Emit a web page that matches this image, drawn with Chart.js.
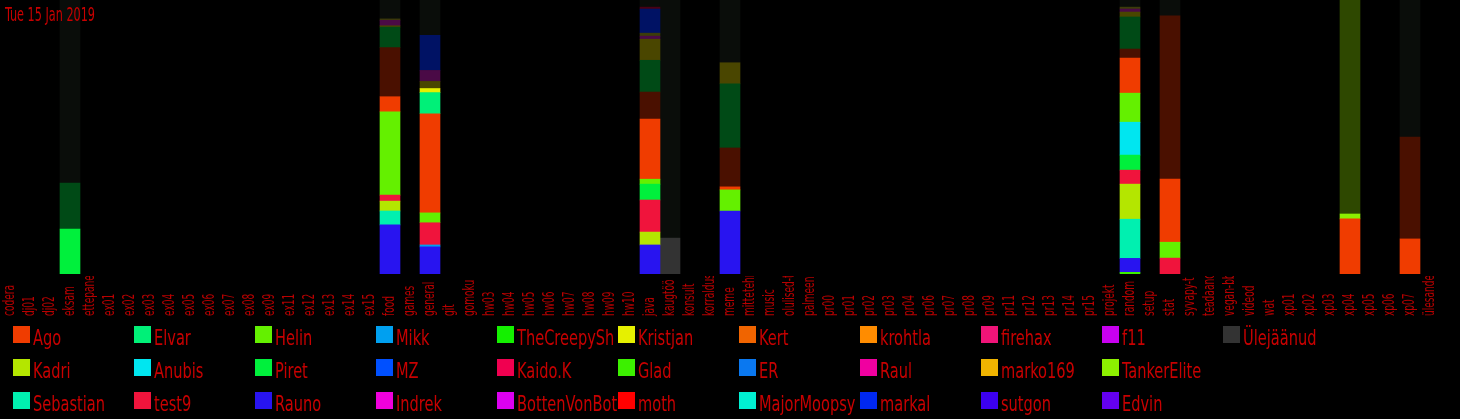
<!DOCTYPE html>
<html>
<head>
<meta charset="utf-8">
<script src="https://cdn.jsdelivr.net/npm/chart.js@4.4.1/dist/chart.umd.min.js"></script>
<style>
html,body{margin:0;padding:0;background:#000;overflow:hidden}
canvas{display:block}
</style>
</head>
<body>
<canvas id="c" width="1460" height="419"></canvas>
<script>
// ---------- data ----------
const titleText = 'Tue 15 Jan 2019';

const categories = ['codera','dj01','dj02','eksam','ettepanek','ex01','ex02','ex03','ex04','ex05','ex06','ex07','ex08','ex09','ex11','ex12','ex13','ex14','ex15','food','games','general','git','gomoku','hw03','hw04','hw05','hw06','hw07','hw08','hw09','hw10','java','kaugtöö','konsult','korraldus','meme','mittetehniline','music','olulised-teated','palmeeni-','pr00','pr01','pr02','pr03','pr04','pr06','pr07','pr08','pr09','pr11','pr12','pr13','pr14','pr15','projekt','random','setup','stat','syvapy-t','teadaanded','vegan-bb','videod','wat','xp01','xp02','xp03','xp04','xp05','xp06','xp07','ülesanded'];

// channels that have messages (all other channels are empty)
const barCategories = ['eksam','food','general','java','kaugtöö','meme','random','stat','xp04','xp07'];

// share of messages (%), newest period, per user, aligned with barCategories
const Glad        = [0,    0,    0,    0,    0,    0,    0.6,  0,    0,    0];
const Rauno       = [0,    17.9, 9.9,  10.6, 0,    23.0, 5.1,  0,    0,    0];
const Mikk        = [0,    0,    0.7,  0,    0,    0,    0,    0,    0,    0];
const Sebastian   = [0,    5.1,  0,    0,    0,    0,    14.3, 0,    0,    0];
const Kadri       = [0,    3.6,  0,    4.7,  0,    0,    12.8, 0,    0,    0];
const test9       = [0,    2.2,  8.1,  11.7, 0,    0,    5.1,  5.8,  0,    0];
const Piret       = [16.4, 0,    0,    5.8,  0,    0,    5.5,  0,    0,    0];
const Anubis      = [0,    0,    0,    0,    0,    0,    12.0, 0,    0,    0];
const Helin       = [0,    30.4, 3.6,  1.8,  0,    7.7,  10.6, 5.8,  0,    0];
const Ago         = [0,    5.5,  36.2, 21.9, 0,    1.1,  12.8, 23.0, 20.1, 12.8];
const Elvar       = [0,    0,    7.7,  0,    0,    0,    0,    0,    0,    0];
const Kristjan    = [0,    0,    1.5,  0,    0,    0,    0,    0,    0,    0];
const TankerElite = [0,    0,    0,    0,    0,    0,    0,    0,    1.8,  0];
const Ulejaanud   = [0,    0,    0,    0,    13.1, 0,    0,    0,    0,    0];

// share of messages (%), older period (dimmed), aligned with barCategories
const AgoOld         = [0,    17.9, 0,    9.9,  0,    14.2, 3.3,  59.6, 0,    37.2];
const PiretOld       = [16.8, 7.5,  0,    11.6, 0,    23.4, 11.7, 0,    0,    0];
const KristjanOld    = [0,    0.5,  2.6,  7.7,  0,    7.7,  1.8,  0,    0,    0];
const IndrekOld      = [0,    2.0,  4.0,  1.1,  0,    0,    1.1,  0,    0,    0];
const KadriOld       = [0,    0.5,  0,    1.1,  0,    0,    0.7,  0,    0,    0];
const MZOld          = [0,    0,    12.8, 8.8,  0,    0,    0,    0,    0,    0];
const test9Old       = [0,    0,    0,    0.7,  0,    0,    0,    0,    0,    0];
const TankerEliteOld = [0,    0,    0,    0,    0,    0,    0,    0,    78.1, 0];
const UlejaanudOld   = [66.8, 6.9,  12.9, 2.6,  86.9, 22.9, 2.6,  5.8,  0,    50.0];

// legend (column-major, 3 rows)
const legendNames  = ['Ago','Kadri','Sebastian','Elvar','Anubis','test9','Helin','Piret','Rauno','Mikk','MZ','Indrek','TheCreepySh','Kaido.K','BottenVonBot','Kristjan','Glad','moth','Kert','ER','MajorMoopsy','krohtla','Raul','markal','firehax','marko169','sutgon','f11','TankerElite','Edvin','Ülejäänud'];
const legendColors = ['#f03c00','#b4e600','#00f0b0','#00f078','#00e6f0','#f0143c','#64f000','#00f03c','#2814f0','#00a0f0','#0050ff','#f000dc','#14f000','#f00050','#dc00f0','#e6f000','#3cf000','#ff0000','#f06400','#0a78f0','#00f0d2','#ff8c00','#f000a0','#0028f0','#f01478','#f0b400','#3c00f0','#c800f0','#8cf000','#6400f0','#333333'];

// ---------- build chart ----------
const todaySeries = [['Glad',Glad],['Rauno',Rauno],['Mikk',Mikk],['Sebastian',Sebastian],['Kadri',Kadri],['test9',test9],['Piret',Piret],['Anubis',Anubis],['Helin',Helin],['Ago',Ago],['Elvar',Elvar],['Kristjan',Kristjan],['TankerElite',TankerElite],['Ülejäänud',Ulejaanud]];
const oldSeries = [['Ago',AgoOld,'#4a1000'],['Piret',PiretOld,'#004a16'],['Kristjan',KristjanOld,'#4a4600'],['Indrek',IndrekOld,'#4a0a46'],['Kadri',KadriOld,'#3c3c0a'],['MZ',MZOld,'#001264'],['test9',test9Old,'#4a0014'],['TankerElite',TankerEliteOld,'#2e4800'],['Ülejäänud',UlejaanudOld,'#0a0d0a']];

function expand(arr){
  return categories.map(c => { const k = barCategories.indexOf(c); return (k < 0 || !arr[k]) ? null : arr[k]; });
}
function colorOf(name){ return legendColors[legendNames.indexOf(name)]; }

const datasets = [];
todaySeries.forEach(([name, arr]) => datasets.push({label:name, data:expand(arr), backgroundColor:colorOf(name), stack:'s', inLegend:true}));
legendNames.forEach(name => {
  if (!todaySeries.some(s => s[0] === name)) datasets.push({label:name, data:expand(barCategories.map(() => 0)), backgroundColor:colorOf(name), stack:'s', inLegend:true});
});
oldSeries.forEach(([name, arr, col]) => datasets.push({label:name + ' (varasem)', data:expand(arr), backgroundColor:col, stack:'s', inLegend:false}));

const FONT = "'Liberation Sans Narrow','DejaVu Sans Condensed','Liberation Sans',sans-serif";
const TEXT_RED = '#c80000';

function fitScale(ctx, font, sample, target){
  ctx.font = font;
  return target / ctx.measureText(sample).width;
}

const bgPlugin = {
  id:'bg',
  beforeDraw(chart){
    const ctx = chart.ctx;
    ctx.save(); ctx.fillStyle = '#000'; ctx.fillRect(0,0,chart.width,chart.height); ctx.restore();
  }
};

const textPlugin = {
  id:'texts',
  afterDraw(chart){
    const ctx = chart.ctx;
    // title
    ctx.save();
    const tFont = '19px ' + FONT;
    const tsx = fitScale(ctx, tFont, titleText, 90);
    ctx.font = tFont; ctx.fillStyle = TEXT_RED; ctx.textBaseline = 'alphabetic'; ctx.textAlign = 'left';
    ctx.translate(5, 21); ctx.scale(tsx, 1); ctx.fillText(titleText, 0, 0);
    ctx.restore();

    // category labels (rotated, read bottom to top)
    const xs = chart.scales.x;
    const lFont = '15px ' + FONT;
    const lsx = fitScale(ctx, lFont, 'codera', 31);
    chart.data.labels.forEach((lab, i) => {
      const cx = xs.getPixelForValue(i);
      ctx.save();
      ctx.beginPath(); ctx.rect(cx - 10, 276, 20, 42); ctx.clip();
      ctx.translate(cx, 316); ctx.rotate(-Math.PI/2); ctx.scale(lsx, 1);
      ctx.font = lFont; ctx.fillStyle = '#b80000'; ctx.textAlign = 'left'; ctx.textBaseline = 'middle';
      ctx.fillText(lab, 0, 0);
      ctx.restore();
    });

    // legend
    const gFont = '22px ' + FONT;
    const gsx = fitScale(ctx, gFont, 'Sebastian', 72);
    const items = chart.data.datasets.filter(d => d.inLegend);
    legendNames.forEach((name, i) => {
      const ds = items.find(d => d.label === name);
      const col = Math.floor(i / 3), row = i % 3;
      const x = 13 + col * 121, y = 326 + row * 33;
      ctx.save();
      ctx.fillStyle = ds.backgroundColor; ctx.fillRect(x, y, 17, 17);
      ctx.beginPath(); ctx.rect(x + 19, y - 8, 102, 34); ctx.clip();
      ctx.translate(x + 20, y + 19); ctx.scale(gsx, 1);
      ctx.font = gFont; ctx.fillStyle = TEXT_RED; ctx.textAlign = 'left'; ctx.textBaseline = 'alphabetic';
      ctx.fillText(ds.label, 0, 0);
      ctx.restore();
    });
  }
};

new Chart(document.getElementById('c').getContext('2d'), {
  type:'bar',
  data:{labels:categories, datasets:datasets},
  options:{
    responsive:false,
    animation:false,
    devicePixelRatio:1,
    layout:{padding:{left:0, right:20, top:0, bottom:145}},
    datasets:{bar:{barPercentage:1, categoryPercentage:1, borderWidth:0}},
    scales:{
      x:{stacked:true, display:false},
      y:{stacked:true, display:false, min:0, max:100}
    },
    plugins:{legend:{display:false}, tooltip:{enabled:false}, title:{display:false}}
  },
  plugins:[bgPlugin, textPlugin]
});
</script>
</body>
</html>
